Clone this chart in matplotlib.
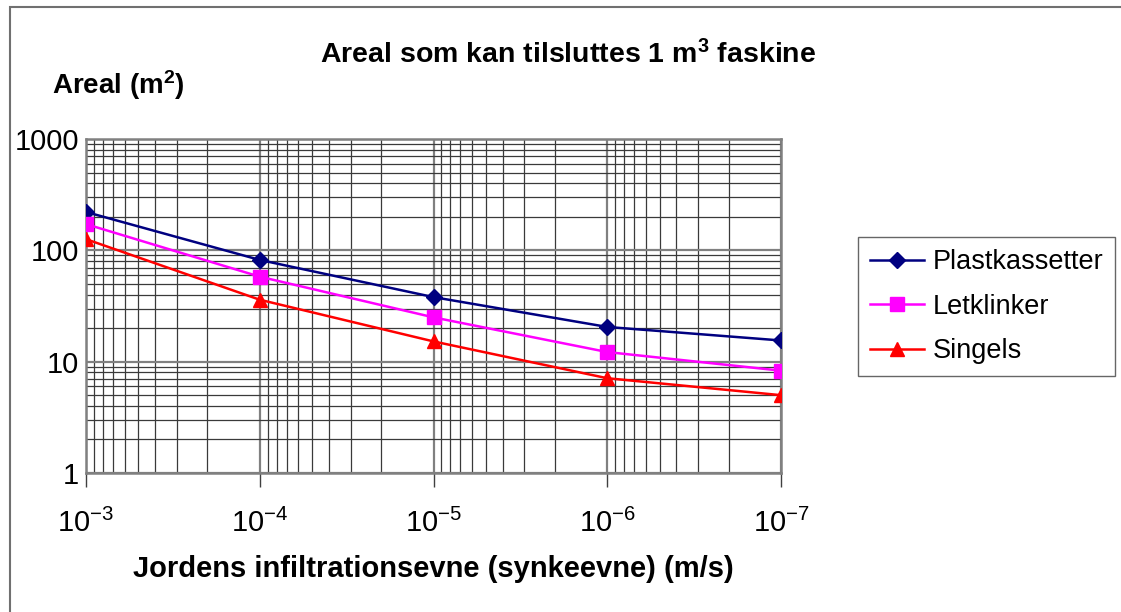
import numpy as np
import matplotlib.pyplot as plt
from matplotlib.patches import Rectangle
from matplotlib.ticker import LogLocator, NullFormatter, FixedLocator

plt.rcParams['font.family'] = ['Liberation Sans', 'DejaVu Sans']
plt.rcParams['mathtext.default'] = 'regular'

# data
infiltration = [1e-3, 1e-4, 1e-5, 1e-6, 1e-7]
plastkassetter = [221, 82, 38, 20.5, 15.5]
letklinker = [172, 58, 25, 12.2, 8.3]
singels = [126, 36, 15.2, 7.1, 5.0]

x_ticks = [1e-3, 1e-4, 1e-5, 1e-6, 1e-7]
x_labels = ['$10^{-3}$', '$10^{-4}$', '$10^{-5}$', '$10^{-6}$', '$10^{-7}$']
y_ticks = [1, 10, 100, 1000]
y_labels = ['1', '10', '100', '1000']

fig = plt.figure(figsize=[11.21, 6.12], dpi=100)
# outer chart frame (runs off the right and bottom edges)
fig.patches.append(Rectangle((10 / 1121, -0.1), 1.2, 1.1 - 7 / 612, transform=fig.transFigure,
                             fill=False, edgecolor='#707070', lw=1.5))

ax = fig.add_axes([86 / 1121, 1 - 473 / 612, 695 / 1121, 334 / 612])
ax.set_xscale('log')
ax.set_yscale('log')
ax.set_xlim(1e-3, 1e-7)
ax.set_ylim(1, 1000)

ax.plot(infiltration, plastkassetter, color='#000080', marker='D', markersize=8, lw=1.8, label='Plastkassetter', zorder=3)
ax.plot(infiltration, letklinker, color='#FF00FF', marker='s', markersize=10, lw=1.8, label='Letklinker', zorder=3)
ax.plot(infiltration, singels, color='#FF0000', marker='^', markersize=10, lw=1.8, label='Singels', zorder=3)

ax.xaxis.set_major_locator(FixedLocator(x_ticks))
ax.set_xticklabels(x_labels, fontsize=21)
ax.yaxis.set_major_locator(FixedLocator(y_ticks))
ax.set_yticklabels(y_labels, fontsize=21)
ax.xaxis.set_minor_locator(LogLocator(base=10, subs=np.arange(2, 10), numticks=20))
ax.yaxis.set_minor_locator(LogLocator(base=10, subs=np.arange(2, 10), numticks=20))
ax.xaxis.set_minor_formatter(NullFormatter())
ax.yaxis.set_minor_formatter(NullFormatter())

ax.tick_params(axis='x', which='major', direction='out', length=10, width=1, color='#404040', pad=16)
ax.tick_params(axis='y', which='major', length=0, pad=5)
ax.tick_params(which='minor', length=0)

ax.grid(True, which='major', color='#808080', lw=1.6)
ax.grid(True, which='minor', color='#3a3a3a', lw=0.9)
ax.set_axisbelow(True)
for s in ax.spines.values():
    s.set_color('#808080')
    s.set_linewidth(1.8)

fig.text(568 / 1121, 1 - 55 / 612, 'Areal som kan tilsluttes 1 m$^3$ faskine', fontsize=20.5,
         fontweight='bold', ha='center', va='center')
fig.text(52 / 1121, 1 - 85 / 612, 'Areal (m$^2$)', fontsize=20, fontweight='bold', ha='left', va='center')
ax.set_xlabel('Jordens infiltrationsevne (synkeevne) (m/s)', fontsize=21, fontweight='bold', labelpad=12)

leg = fig.legend(loc='upper left', bbox_to_anchor=(858 / 1121, 1 - 237 / 612), fontsize=19.5,
                 frameon=True, fancybox=False, edgecolor='#404040', handlelength=2.0,
                 borderaxespad=0, borderpad=0.45, labelspacing=0.68, handletextpad=0.3)
leg.get_frame().set_linewidth(1.0)

fig.savefig('out.png', dpi=100)
